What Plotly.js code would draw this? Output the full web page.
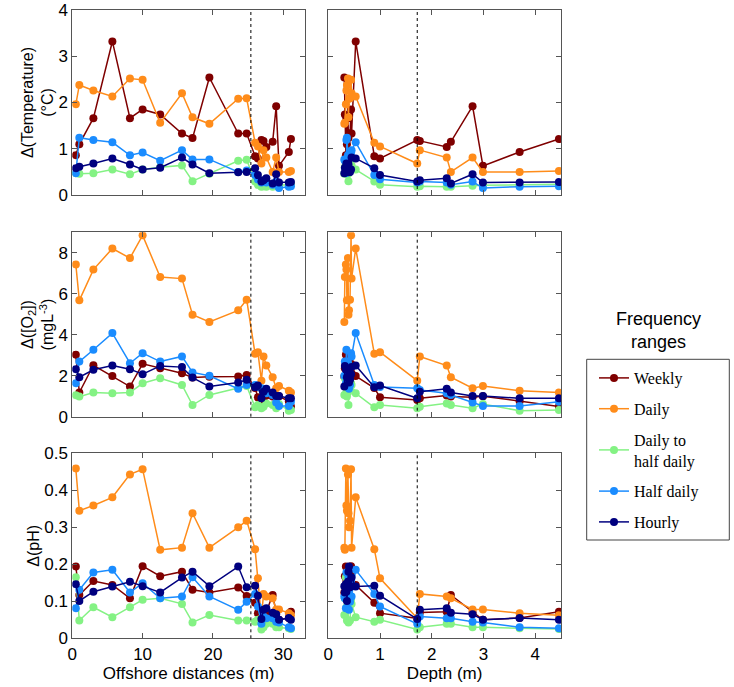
<!DOCTYPE html>
<html>
<head>
<meta charset="utf-8">
<script src="https://cdn.plot.ly/plotly-3.0.1.min.js"></script>
<style>
  html, body { margin: 0; padding: 0; background: #fff; }
  #chart { width: 734px; height: 687px; }
</style>
</head>
<body>
<div id="chart"></div>
<script>
'use strict';

// stations, one entry each
const distance = [0.5, 1.0, 3.0, 5.7, 8.2, 10.0, 12.5, 15.6, 17.1, 19.5, 23.6, 24.8,
                  26.0, 26.4, 26.9, 27.2, 27.6, 28.5, 29.0, 29.4, 30.8, 31.1];
const depth = [0.34, 0.36, 0.35, 0.53, 0.38, 0.44, 0.32, 0.45, 0.39, 0.31, 0.40, 0.42,
               0.89, 1.00, 1.72, 1.77, 2.29, 2.37, 2.79, 2.99, 3.70, 4.46];

// delta temperature (degC)
const tempWeekly = [0.86, 1.10, 1.66, 3.32, 1.66, 1.85, 1.74, 1.33, 1.23, 2.54, 1.33, 1.33,
                    0.84, 0.79, 1.19, 1.17, 1.04, 1.15, 1.92, 0.63, 0.93, 1.21];
const tempDaily = [1.96, 2.38, 2.26, 2.13, 2.52, 2.49, 1.56, 2.20, 1.68, 1.54, 2.08, 2.09,
                   1.13, 1.05, 0.68, 0.97, 0.81, 0.50, 0.81, 0.50, 0.50, 0.52];
const tempDailyHalf = [0.47, 0.46, 0.47, 0.55, 0.45, 0.55, 0.60, 0.64, 0.30, 0.46, 0.74, 0.76,
                       0.29, 0.22, 0.18, 0.19, 0.18, 0.18, 0.20, 0.21, 0.22, 0.23];
const tempHalf = [0.47, 1.24, 1.19, 1.14, 0.86, 0.92, 0.74, 0.97, 0.77, 0.77, 0.50, 0.53,
                  0.43, 0.34, 0.27, 0.29, 0.27, 0.22, 0.29, 0.15, 0.18, 0.19];
const tempHourly = [0.58, 0.61, 0.68, 0.79, 0.66, 0.55, 0.59, 0.81, 0.66, 0.47, 0.49, 0.50,
                    0.58, 0.43, 0.29, 0.32, 0.36, 0.25, 0.45, 0.27, 0.27, 0.28];

// delta [O2] (mg/L)
const o2Weekly = [3.02, 1.18, 2.51, 1.99, 1.47, 2.58, 2.37, 2.12, 1.91, 1.95, 1.96, 2.04,
                  1.40, 0.95, 0.82, 0.90, 1.03, 0.98, 0.95, 1.00, 0.75, 0.50];
const o2Daily = [7.43, 5.68, 7.18, 8.21, 7.74, 8.85, 6.82, 6.74, 4.98, 4.62, 5.19, 5.71,
                 3.07, 3.15, 1.76, 2.94, 2.50, 1.93, 1.39, 1.50, 1.27, 1.18];
const o2DailyHalf = [1.05, 0.98, 1.18, 1.14, 1.18, 1.63, 1.88, 1.55, 0.57, 1.06, 1.40, 1.50,
                     0.46, 0.57, 0.41, 0.49, 0.65, 0.57, 0.41, 0.62, 0.29, 0.33];
const o2Half = [1.63, 2.69, 3.27, 4.08, 2.61, 3.10, 2.69, 2.94, 2.16, 2.00, 1.36, 1.55,
                1.55, 1.45, 1.39, 1.30, 1.14, 1.06, 0.69, 0.52, 0.52, 0.73];
const o2Hourly = [2.32, 1.93, 2.29, 2.50, 2.32, 2.07, 2.48, 2.42, 1.91, 1.47, 1.67, 1.80,
                  1.44, 1.52, 0.90, 1.22, 1.36, 1.18, 1.01, 1.01, 0.90, 0.90];

// delta pH
const phWeekly = [0.194, 0.117, 0.155, 0.144, 0.108, 0.195, 0.168, 0.180, 0.131, 0.124, 0.137, 0.114,
                  0.096, 0.068, 0.054, 0.070, 0.072, 0.117, 0.070, 0.050, 0.055, 0.072];
const phDaily = [0.459, 0.345, 0.359, 0.381, 0.443, 0.457, 0.239, 0.245, 0.338, 0.245, 0.300, 0.318,
                 0.241, 0.162, 0.054, 0.120, 0.113, 0.108, 0.078, 0.078, 0.068, 0.062];
const phDailyHalf = [0.165, 0.048, 0.084, 0.057, 0.084, 0.104, 0.108, 0.093, 0.043, 0.063, 0.048, 0.048,
                     0.045, 0.050, 0.024, 0.030, 0.039, 0.039, 0.030, 0.030, 0.027, 0.025];
const phHalf = [0.081, 0.131, 0.178, 0.185, 0.124, 0.149, 0.108, 0.113, 0.165, 0.113, 0.077, 0.099,
                0.120, 0.086, 0.039, 0.059, 0.054, 0.054, 0.045, 0.043, 0.030, 0.027];
const phHourly = [0.146, 0.101, 0.126, 0.140, 0.153, 0.141, 0.124, 0.164, 0.180, 0.141, 0.194, 0.138,
                  0.142, 0.115, 0.052, 0.077, 0.081, 0.069, 0.065, 0.050, 0.055, 0.050];

const seriesNames = ['Weekly', 'Daily', 'Daily to<br>half daily', 'Half daily', 'Hourly'];
const dividers = [25.4, 1.72];   // dotted lines: offshore distance, depth

const colors = ['#7f0000', '#ff8c1a', '#84f284', '#1a8cff', '#00007f'];
const sans = 'Liberation Sans, Arial, sans-serif';
const W = 734, H = 687;

const rows = [
  { vals: [tempWeekly, tempDaily, tempDailyHalf, tempHalf, tempHourly],
    title: '\u0394(Temperature)<br>(\u00b0C)', range: [0, 4], dtick: 1, top: 10, bottom: 195 },
  { vals: [o2Weekly, o2Daily, o2DailyHalf, o2Half, o2Hourly],
    title: '\u0394([O<sub>2</sub>])<br>(mgL<sup>-3</sup>)', range: [0, 9], dtick: 2, top: 232.3, bottom: 416.7 },
  { vals: [phWeekly, phDaily, phDailyHalf, phHalf, phHourly],
    title: '\u0394(pH)', range: [0, 0.5], dtick: 0.1, top: 453.3, bottom: 638.3 }
];

const cols = [
  { x: distance, left: 72.3, right: 305, range: [0, 33.1], dtick: 10, title: 'Offshore distances (m)' },
  { x: depth, left: 328.3, right: 561, range: [0, 4.5], dtick: 1, title: 'Depth (m)' }
];

// order of stations along depth, for the right column
const depthOrder = depth.map((d, i) => i).sort((a, b) => depth[a] - depth[b]);

let traces = [];
let layout = {
  width: W, height: H,
  margin: { l: 0, r: 0, t: 0, b: 0 },
  paper_bgcolor: '#fff', plot_bgcolor: '#fff',
  font: { family: sans, size: 17, color: '#000' },
  showlegend: true,
  legend: {
    x: 594 / W, y: 1 - 361 / H, xanchor: 'left', yanchor: 'top',
    bgcolor: 'rgba(0,0,0,0)', borderwidth: 0,
    traceorder: 'grouped', tracegroupgap: 7,
    font: { family: 'Liberation Serif, DejaVu Serif, serif', size: 16, color: '#000' }
  },
  shapes: [], annotations: []
};

function axisBase(){
  return {
    showgrid: false, zeroline: false,
    showline: true, linecolor: '#555', linewidth: 1, mirror: 'ticks',
    ticks: 'inside', ticklen: 5, tickcolor: '#555',
    tickfont: { family: sans, size: 17, color: '#000' }
  };
}

rows.forEach(function(row, r){
  cols.forEach(function(col, c){
    const n = 2 * r + c + 1;
    const xa = 'x' + (n === 1 ? '' : n), ya = 'y' + (n === 1 ? '' : n);
    const order = c === 0 ? distance.map((d, i) => i) : depthOrder;

    row.vals.forEach(function(v, s){
      traces.push({
        x: order.map(i => col.x[i]),
        y: order.map(i => v[i]),
        xaxis: xa, yaxis: ya,
        type: 'scatter', mode: 'lines+markers',
        name: seriesNames[s], legendgroup: 'g' + s,
        showlegend: n === 1,
        line: { color: colors[s], width: 1.5 },
        marker: { color: colors[s], size: 8 }
      });
    });

    let xax = axisBase();
    xax.domain = [col.left / W, col.right / W];
    xax.range = col.range;
    xax.tick0 = 0; xax.dtick = col.dtick;
    xax.anchor = ya;
    xax.showticklabels = r === 2;
    if (r === 2) xax.title = { text: col.title, font: { family: sans, size: 17 }, standoff: 4 };

    let yax = axisBase();
    yax.domain = [1 - row.bottom / H, 1 - row.top / H];
    yax.range = row.range;
    yax.tick0 = 0; yax.dtick = row.dtick;
    yax.anchor = xa;
    yax.showticklabels = c === 0;
    if (c === 0) yax.title = { text: row.title, font: { family: sans, size: 16 }, standoff: 0 };

    layout['xaxis' + (n === 1 ? '' : n)] = xax;
    layout['yaxis' + (n === 1 ? '' : n)] = yax;

    layout.shapes.push({
      type: 'line', xref: xa, yref: ya + ' domain',
      x0: dividers[c], x1: dividers[c], y0: 0, y1: 1,
      line: { color: '#000', width: 1, dash: 'dot' }
    });
  });
});

// legend frame and heading
layout.shapes.push({
  type: 'rect', xref: 'paper', yref: 'paper',
  x0: 586.7 / W, x1: 729.3 / W, y0: 1 - 540 / H, y1: 1 - 359.3 / H,
  line: { color: '#444', width: 1 }, fillcolor: 'rgba(0,0,0,0)'
});
layout.annotations.push({
  xref: 'paper', yref: 'paper', x: 658 / W, y: 1 - 330 / H,
  xanchor: 'center', yanchor: 'middle',
  text: 'Frequency<br>ranges', showarrow: false,
  font: { family: sans, size: 18, color: '#000' }
});

Plotly.newPlot('chart', traces, layout, { staticPlot: true });
</script>
</body>
</html>
